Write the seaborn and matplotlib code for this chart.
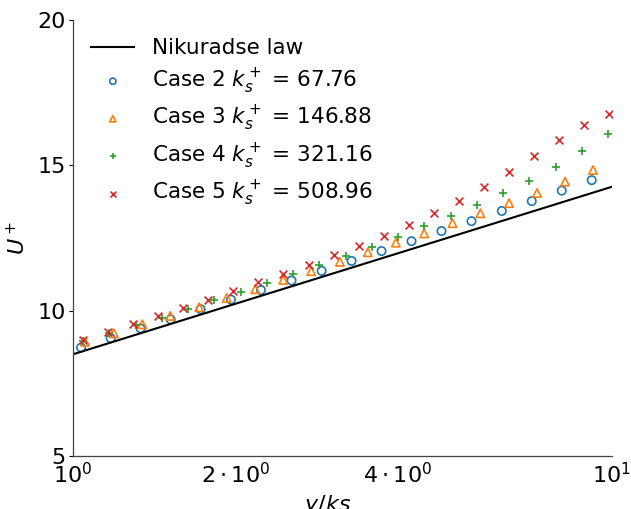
import matplotlib
matplotlib.use("Agg")
import matplotlib.pyplot as plt
import seaborn as sns
import numpy as np

# Nikuradse law (straight on the log axis)
nik_x = [1.0, 10.0]
nik_u = [8.5, 14.26]

# Case 2
c2_x = [1.035, 1.175, 1.335, 1.518, 1.726, 1.964, 2.233, 2.545, 2.894, 3.289,
        3.739, 4.250, 4.831, 5.492, 6.252, 7.105, 8.077, 9.182]
c2_u = [8.73, 9.05, 9.39, 9.70, 10.05, 10.38, 10.71, 11.04, 11.37, 11.71,
        12.05, 12.39, 12.74, 13.08, 13.43, 13.77, 14.13, 14.49]

# Case 3
c3_x = [1.053, 1.191, 1.345, 1.515, 1.715, 1.929, 2.179, 2.456, 2.768, 3.129,
        3.526, 3.975, 4.486, 5.064, 5.706, 6.449, 7.269, 8.193, 9.233]
c3_u = [8.93, 9.22, 9.53, 9.82, 10.12, 10.44, 10.74, 11.06, 11.36, 11.68,
        12.01, 12.34, 12.66, 13.01, 13.35, 13.70, 14.05, 14.44, 14.84]

# Case 4
c4_x = [1.045, 1.168, 1.307, 1.461, 1.633, 1.826, 2.047, 2.288, 2.563, 2.864,
        3.210, 3.587, 4.014, 4.486, 5.021, 5.617, 6.285, 7.025, 7.871, 8.808, 9.843]
c4_u = [8.97, 9.22, 9.50, 9.76, 10.06, 10.36, 10.64, 10.96, 11.26, 11.57,
        11.88, 12.20, 12.54, 12.91, 13.26, 13.62, 14.04, 14.47, 14.95, 15.48, 16.07]

# Case 5
c5_x = [1.042, 1.160, 1.291, 1.436, 1.602, 1.782, 1.984, 2.207, 2.456, 2.737,
        3.050, 3.394, 3.776, 4.206, 4.681, 5.208, 5.796, 6.449, 7.188, 7.998, 8.899, 9.886]
c5_u = [8.99, 9.27, 9.54, 9.82, 10.08, 10.37, 10.67, 10.98, 11.27, 11.58,
        11.90, 12.22, 12.58, 12.96, 13.35, 13.78, 14.24, 14.77, 15.32, 15.87, 16.39, 16.77]

labels = ["Nikuradse law",
          r"Case 2 $k_s^+$ = 67.76",
          r"Case 3 $k_s^+$ = 146.88",
          r"Case 4 $k_s^+$ = 321.16",
          r"Case 5 $k_s^+$ = 508.96"]

x_ticks = [1, 2, 4, 10]
x_ticklabels = [r"$10^0$", r"$2\cdot10^0$", r"$4\cdot10^0$", r"$10^1$"]
y_ticks = [5, 10, 15, 20]

FS = 16
plt.rcParams["font.family"] = ["DejaVu Sans"]
plt.rcParams["font.size"] = FS
plt.rcParams["mathtext.fontset"] = "dejavusans"

fig = plt.figure(figsize=(6.31, 5.09), dpi=100)
ax = fig.add_axes([73 / 631, 53 / 509, (611.7 - 73) / 631, (456 - 20) / 509])

sns.lineplot(x=nik_x, y=nik_u, color="black", linewidth=1.5, label=labels[0], ax=ax)
sns.scatterplot(x=c2_x, y=c2_u, marker="o", s=36, facecolors="none",
                edgecolor="#1f77b4", linewidth=1.2, label=labels[1], ax=ax)
sns.scatterplot(x=c3_x, y=c3_u, marker="^", s=36, facecolors="none",
                edgecolor="#ff7f0e", linewidth=1.2, label=labels[2], ax=ax)
sns.scatterplot(x=c4_x, y=c4_u, marker="+", s=40, color="#2ca02c",
                linewidth=1.2, label=labels[3], ax=ax)
sns.scatterplot(x=c5_x, y=c5_u, marker="x", s=32, color="#d62728",
                linewidth=1.2, label=labels[4], ax=ax)

ax.set_xscale("log")
ax.set_xlim(1, 10)
ax.set_ylim(5, 20)
ax.set_xticks(x_ticks)
ax.set_xticklabels(x_ticklabels)
ax.xaxis.set_minor_locator(matplotlib.ticker.NullLocator())
ax.set_yticks(y_ticks)
ax.tick_params(axis="x", length=0, pad=4, labelsize=FS)
ax.tick_params(axis="y", length=3, pad=2, labelsize=FS)

sns.despine(ax=ax)
for sp in ["left", "bottom"]:
    ax.spines[sp].set_color("#444444")
    ax.spines[sp].set_linewidth(0.9)

ax.set_xlabel(r"$y/ks$", fontsize=FS, labelpad=2)
ax.xaxis.set_label_coords(0.473, -0.085)
ax.set_ylabel(r"$U^+$", fontsize=FS, labelpad=6)

ax.legend(loc="upper left", frameon=False, fontsize=15.5, markerscale=0.75,
          labelspacing=0.38, borderaxespad=0.45)

fig.savefig("out.png", dpi=100)
